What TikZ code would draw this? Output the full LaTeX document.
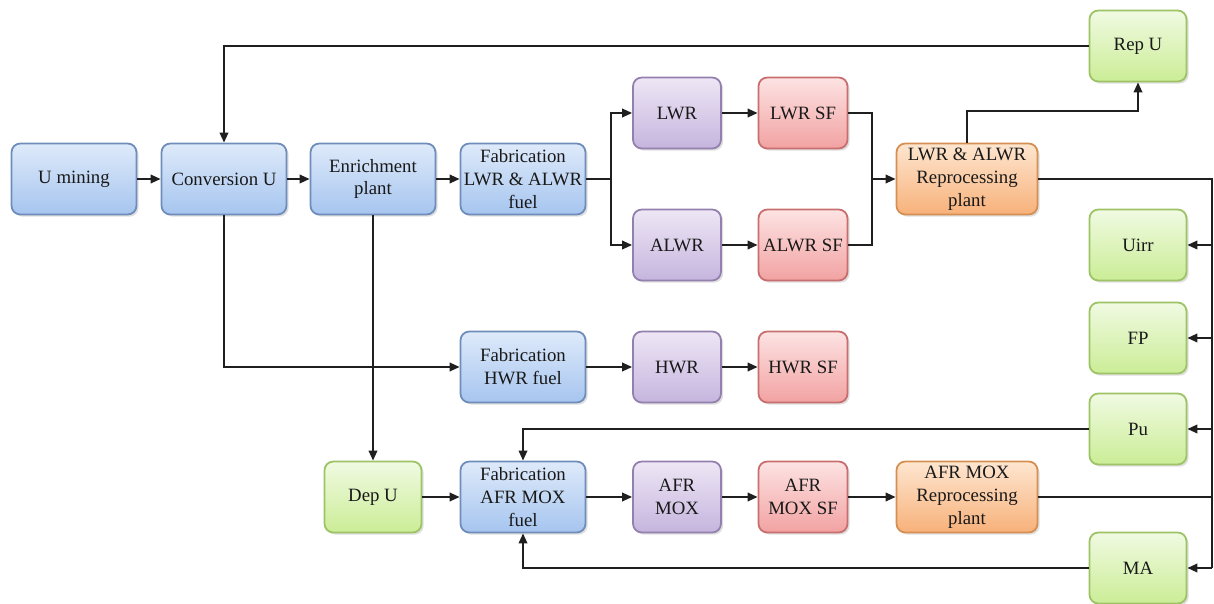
\documentclass[tikz,border=0pt]{standalone}
\usepackage{fontspec}
\setmainfont{Liberation Serif}
\newfontfamily\boxfont{Liberation Serif}
\usetikzlibrary{arrows.meta,shadows}

\definecolor{bluetop}{HTML}{DEEAFA}
\definecolor{bluebot}{HTML}{A6C5EF}
\definecolor{blueline}{HTML}{6F8DBA}
\definecolor{purptop}{HTML}{EEE6F5}
\definecolor{purpbot}{HTML}{C5B5DE}
\definecolor{purpline}{HTML}{9480AE}
\definecolor{redtop}{HTML}{FDE3E3}
\definecolor{redbot}{HTML}{F2A2A2}
\definecolor{redline}{HTML}{C86E6E}
\definecolor{orgtop}{HTML}{FEE6D0}
\definecolor{orgbot}{HTML}{F7B17A}
\definecolor{orgline}{HTML}{D68F52}
\definecolor{grntop}{HTML}{F0FAE2}
\definecolor{grnbot}{HTML}{CBED96}
\definecolor{grnline}{HTML}{9DC365}

\begin{document}
\begin{tikzpicture}[x=0.02cm, y=-0.02cm, line width=1.1pt, draw=black!88,
  box/.style={draw, line width=1pt, rounded corners=5pt, align=center,
    minimum width=2.5cm, minimum height=1.42cm, inner sep=1pt,
    text=black!90, font=\boxfont\fontsize{10.7}{13}\selectfont,
    drop shadow={opacity=0.25, shadow xshift=1.2pt, shadow yshift=-1.2pt}},
  fab/.style={box, top color=bluetop, bottom color=bluebot, draw=blueline},
  reac/.style={box, minimum width=1.76cm, top color=purptop, bottom color=purpbot, draw=purpline},
  spent/.style={box, minimum width=1.78cm, top color=redtop, bottom color=redbot, draw=redline},
  repro/.style={box, minimum width=2.82cm, top color=orgtop, bottom color=orgbot, draw=orgline},
  prod/.style={box, minimum width=1.94cm, top color=grntop, bottom color=grnbot, draw=grnline},
  arr/.style={-{Triangle[length=2mm, width=1.7mm]}}]
  \useasboundingbox (0,0) rectangle (1214,604);

  % front end
  \node[fab] (umin) at (74,179) {U mining};
  \node[fab] (conv) at (224,179) {Conversion U};
  \node[fab] (enr)  at (373,179) {Enrichment\\plant};
  \node[fab] (fablwr) at (523,179) {Fabrication\\LWR \& ALWR\\fuel};
  \node[fab] (fabhwr) at (523,367) {Fabrication\\HWR fuel};
  \node[fab] (fabmox) at (523,497) {Fabrication\\AFR MOX\\fuel};
  \node[prod] (depu) at (373,497) {Dep U};

  % reactors and spent fuel
  \node[reac] (lwr)  at (677,113) {LWR};
  \node[reac] (alwr) at (677,245) {ALWR};
  \node[reac] (hwr)  at (677,367) {HWR};
  \node[reac] (afr)  at (677,497) {AFR\\MOX};
  \node[spent] (lwrsf)  at (803,113) {LWR SF};
  \node[spent] (alwrsf) at (803,245) {ALWR SF};
  \node[spent] (hwrsf)  at (803,367) {HWR SF};
  \node[spent] (afrsf)  at (803,497) {AFR\\MOX SF};

  % reprocessing and products
  \node[repro] (repa) at (967,179) {LWR \& ALWR\\Reprocessing\\plant};
  \node[repro] (repb) at (967,497) {AFR MOX\\Reprocessing\\plant};
  \node[prod] (repu) at (1138,46)  {Rep U};
  \node[prod] (uirr) at (1138,245) {Uirr};
  \node[prod] (fp)   at (1138,338) {FP};
  \node[prod] (pu)   at (1138,429) {Pu};
  \node[prod] (ma)   at (1138,568) {MA};

  \coordinate (jr) at (872,179);
  \coordinate (bus) at (1212,0);

  \draw[arr] (umin) -- (conv);
  \draw[arr] (conv) -- (enr);
  \draw[arr] (enr) -- (fablwr);
  \draw[arr] (fablwr.east) -- ++(25,0) |- (lwr.west);
  \draw[arr] (fablwr.east) -- ++(25,0) |- (alwr.west);
  \draw[arr] (lwr) -- (lwrsf);
  \draw[arr] (alwr) -- (alwrsf);
  \draw (lwrsf.east) -| (jr);
  \draw (alwrsf.east) -| (jr);
  \draw[arr] (jr) -- (repa.west);
  \draw[arr] (repa.north) -- ++(0,-32) -| (repu.south);
  \draw[arr] (repu.west) -| (conv.north);

  \draw[arr] (conv.south) |- (fabhwr.west);
  \draw[arr] (fabhwr) -- (hwr);
  \draw[arr] (hwr) -- (hwrsf);

  \draw[arr] (enr.south) -- (depu.north);
  \draw[arr] (depu) -- (fabmox);
  \draw[arr] (fabmox) -- (afr);
  \draw[arr] (afr) -- (afrsf);
  \draw[arr] (afrsf) -- (repb);

  % collector on the right
  \draw (repa.east) -- (repa.east -| bus) -- (bus |- ma);
  \draw (repb.east) -- (repb.east -| bus);
  \draw[arr] (bus |- uirr) -- (uirr.east);
  \draw[arr] (bus |- fp) -- (fp.east);
  \draw[arr] (bus |- pu) -- (pu.east);
  \draw[arr] (bus |- ma) -- (ma.east);

  \draw[arr] (pu.west) -| (fabmox.north);
  \draw[arr] (ma.west) -| (fabmox.south);
\end{tikzpicture}
\end{document}
